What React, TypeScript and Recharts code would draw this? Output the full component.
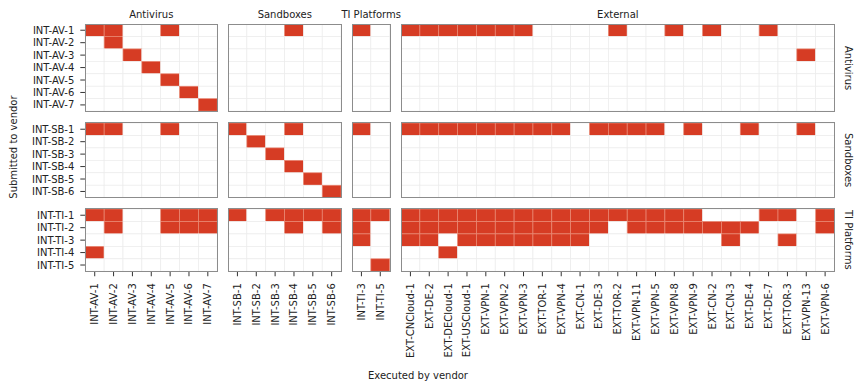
import React from 'react';
import { ScatterChart, Scatter, XAxis, YAxis } from 'recharts';

const avVendors = ['INT-AV-1', 'INT-AV-2', 'INT-AV-3', 'INT-AV-4', 'INT-AV-5', 'INT-AV-6', 'INT-AV-7'];
const sbVendors = ['INT-SB-1', 'INT-SB-2', 'INT-SB-3', 'INT-SB-4', 'INT-SB-5', 'INT-SB-6'];
const tiSubmitters = ['INT-TI-1', 'INT-TI-2', 'INT-TI-3', 'INT-TI-4', 'INT-TI-5'];
const tiExecutors = ['INT-TI-3', 'INT-TI-5'];
const extVendors = [
  'EXT-CNCloud-1', 'EXT-DE-2', 'EXT-DECloud-1', 'EXT-USCloud-1', 'EXT-VPN-1', 'EXT-VPN-2',
  'EXT-VPN-3', 'EXT-TOR-1', 'EXT-VPN-4', 'EXT-CN-1', 'EXT-DE-3', 'EXT-TOR-2', 'EXT-VPN-11',
  'EXT-VPN-5', 'EXT-VPN-8', 'EXT-VPN-9', 'EXT-CN-2', 'EXT-CN-3', 'EXT-DE-4', 'EXT-DE-7',
  'EXT-TOR-3', 'EXT-VPN-13', 'EXT-VPN-6',
];

// who executed a sample submitted to each vendor
const hits: Record<string, string[]> = {
  'INT-AV-1': ['INT-AV-1', 'INT-AV-2', 'INT-AV-5', 'INT-SB-4', 'INT-TI-3', 'EXT-CNCloud-1', 'EXT-DE-2',
    'EXT-DECloud-1', 'EXT-USCloud-1', 'EXT-VPN-1', 'EXT-VPN-2', 'EXT-VPN-3', 'EXT-TOR-2', 'EXT-VPN-8',
    'EXT-CN-2', 'EXT-DE-7'],
  'INT-AV-2': ['INT-AV-2'],
  'INT-AV-3': ['INT-AV-3', 'EXT-VPN-13'],
  'INT-AV-4': ['INT-AV-4'],
  'INT-AV-5': ['INT-AV-5'],
  'INT-AV-6': ['INT-AV-6'],
  'INT-AV-7': ['INT-AV-7'],
  'INT-SB-1': ['INT-AV-1', 'INT-AV-2', 'INT-AV-5', 'INT-SB-1', 'INT-SB-4', 'INT-TI-3', 'EXT-CNCloud-1',
    'EXT-DE-2', 'EXT-DECloud-1', 'EXT-USCloud-1', 'EXT-VPN-1', 'EXT-VPN-2', 'EXT-VPN-3', 'EXT-TOR-1',
    'EXT-VPN-4', 'EXT-DE-3', 'EXT-TOR-2', 'EXT-VPN-11', 'EXT-VPN-5', 'EXT-VPN-9', 'EXT-DE-4', 'EXT-VPN-13'],
  'INT-SB-2': ['INT-SB-2'],
  'INT-SB-3': ['INT-SB-3'],
  'INT-SB-4': ['INT-SB-4'],
  'INT-SB-5': ['INT-SB-5'],
  'INT-SB-6': ['INT-SB-6'],
  'INT-TI-1': ['INT-AV-1', 'INT-AV-2', 'INT-AV-5', 'INT-AV-6', 'INT-AV-7', 'INT-SB-1', 'INT-SB-3',
    'INT-SB-4', 'INT-SB-5', 'INT-SB-6', 'INT-TI-3', 'INT-TI-5', 'EXT-CNCloud-1', 'EXT-DE-2',
    'EXT-DECloud-1', 'EXT-USCloud-1', 'EXT-VPN-1', 'EXT-VPN-2', 'EXT-VPN-3', 'EXT-TOR-1', 'EXT-VPN-4',
    'EXT-CN-1', 'EXT-DE-3', 'EXT-TOR-2', 'EXT-VPN-11', 'EXT-VPN-5', 'EXT-VPN-8', 'EXT-VPN-9',
    'EXT-DE-7', 'EXT-TOR-3', 'EXT-VPN-6'],
  'INT-TI-2': ['INT-AV-2', 'INT-AV-5', 'INT-AV-6', 'INT-AV-7', 'INT-SB-4', 'INT-SB-6', 'INT-TI-3',
    'EXT-CNCloud-1', 'EXT-DE-2', 'EXT-DECloud-1', 'EXT-USCloud-1', 'EXT-VPN-1', 'EXT-VPN-2',
    'EXT-VPN-3', 'EXT-TOR-1', 'EXT-VPN-4', 'EXT-CN-1', 'EXT-DE-3', 'EXT-VPN-11', 'EXT-VPN-5',
    'EXT-VPN-8', 'EXT-VPN-9', 'EXT-CN-2', 'EXT-CN-3', 'EXT-DE-4', 'EXT-VPN-6'],
  'INT-TI-3': ['INT-TI-3', 'EXT-CNCloud-1', 'EXT-DE-2', 'EXT-USCloud-1', 'EXT-VPN-1', 'EXT-VPN-2',
    'EXT-VPN-3', 'EXT-TOR-1', 'EXT-VPN-4', 'EXT-CN-1', 'EXT-CN-3', 'EXT-TOR-3'],
  'INT-TI-4': ['INT-AV-1', 'EXT-DECloud-1'],
  'INT-TI-5': ['INT-TI-5'],
};

const rowGroups = [
  { name: 'Antivirus', rows: avVendors },
  { name: 'Sandboxes', rows: sbVendors },
  { name: 'TI Platforms', rows: tiSubmitters },
];
const colGroups = [
  { name: 'Antivirus', cols: avVendors },
  { name: 'Sandboxes', cols: sbVendors },
  { name: 'TI Platforms', cols: tiExecutors },
  { name: 'External', cols: extVendors },
];

const FONT = '"DejaVu Sans", sans-serif';
const RED = '#d63c24';
const LEFT = 85.3;
const TOP = 24.3;
const CW = 18.85;
const RH = 12.45;
const GAP_X = 11;
const GAP_Y = 11.3;
const X_AXIS_H = 105;

const XTick = (props: any) => {
  const { x, y, payload, labels } = props;
  return (
    <g transform={`translate(${x},${y})`}>
      <text transform="rotate(-90)" textAnchor="end" dy="0.35em" fontSize={10} fontFamily={FONT} fill="#222">
        {labels[payload.value]}
      </text>
    </g>
  );
};

function Panel({ rows, cols, left, top, showX, showY }: any) {
  const w = cols.length * CW;
  const h = rows.length * RH;
  const data = rows.flatMap((r: string, yi: number) =>
    cols.map((c: string, xi: number) => ({ xi, yi, on: (hits[r] || []).includes(c) ? 1 : 0 }))
  );
  const axisW = showY ? left : 0;
  const axisH = showX ? X_AXIS_H : 0;

  const tile = (p: any) => {
    const on = p.payload.on === 1;
    return (
      <rect
        x={p.cx - CW / 2}
        y={p.cy - RH / 2}
        width={CW}
        height={RH}
        fill={on ? RED : '#ffffff'}
        stroke={on ? '#ea8a76' : '#ececec'}
        strokeWidth={0.7}
      />
    );
  };

  return (
    <>
      <div style={{ position: 'absolute', left: left - axisW, top }}>
        <ScatterChart width={w + axisW} height={h + axisH} margin={{ top: 0, right: 0, bottom: 0, left: 0 }}>
          <XAxis
            type="number"
            dataKey="xi"
            domain={[-0.5, cols.length - 0.5]}
            ticks={cols.map((_: string, i: number) => i)}
            interval={0}
            hide={!showX}
            height={axisH}
            axisLine={false}
            tickSize={5}
            tickMargin={7}
            tickLine={{ stroke: '#333' }}
            tick={(p: any) => <XTick {...p} labels={cols} />}
          />
          <YAxis
            type="number"
            dataKey="yi"
            domain={[-0.5, rows.length - 0.5]}
            ticks={rows.map((_: string, i: number) => i)}
            tickFormatter={(i: number) => rows[i]}
            interval={0}
            reversed
            hide={!showY}
            width={axisW}
            axisLine={false}
            tickSize={5}
            tickMargin={6}
            tickLine={{ stroke: '#333' }}
            tick={{ fill: '#222', fontSize: 10, fontFamily: FONT }}
          />
          <Scatter data={data} shape={tile} isAnimationActive={false} />
        </ScatterChart>
      </div>
      <div
        style={{
          position: 'absolute',
          left: left - 0.5,
          top: top - 0.5,
          width: w + 1,
          height: h + 1,
          border: '1px solid #8c8c8c',
          boxSizing: 'border-box',
          pointerEvents: 'none',
        }}
      />
    </>
  );
}

export default function App() {
  const colLefts: number[] = [];
  let x = LEFT;
  colGroups.forEach((g) => {
    colLefts.push(x);
    x += g.cols.length * CW + GAP_X;
  });
  const rowTops: number[] = [];
  let y = TOP;
  rowGroups.forEach((g) => {
    rowTops.push(y);
    y += g.rows.length * RH + GAP_Y;
  });
  const right = colLefts[3] + extVendors.length * CW;
  const bottom = rowTops[2] + tiSubmitters.length * RH;

  return (
    <div style={{ position: 'absolute', left: 0, top: 0, width: 865, height: 387, background: '#fff', fontFamily: FONT, color: '#222' }}>
      {rowGroups.map((rg, ri) =>
        colGroups.map((cg, ci) => (
          <Panel
            key={`${ri}-${ci}`}
            rows={rg.rows}
            cols={cg.cols}
            left={colLefts[ci]}
            top={rowTops[ri]}
            showX={ri === rowGroups.length - 1}
            showY={ci === 0}
          />
        ))
      )}

      {colGroups.map((cg, ci) => (
        <div
          key={cg.name}
          style={{
            position: 'absolute',
            left: colLefts[ci] - 20,
            width: cg.cols.length * CW + 40,
            top: 9,
            lineHeight: '12px',
            fontSize: 10,
            textAlign: 'center',
            whiteSpace: 'nowrap',
          }}
        >
          {cg.name}
        </div>
      ))}

      {rowGroups.map((rg, ri) => (
        <div
          key={rg.name}
          style={{
            position: 'absolute',
            left: right + 7.5,
            top: rowTops[ri] - 10,
            height: rg.rows.length * RH + 20,
            width: 12,
            lineHeight: '12px',
            fontSize: 10,
            writingMode: 'vertical-rl',
            textAlign: 'center',
            whiteSpace: 'nowrap',
          }}
        >
          {rg.name}
        </div>
      ))}

      <div
        style={{
          position: 'absolute',
          left: 8,
          top: TOP,
          height: bottom - TOP,
          width: 12,
          lineHeight: '12px',
          fontSize: 10,
          writingMode: 'vertical-rl',
          transform: 'rotate(180deg)',
          textAlign: 'center',
          whiteSpace: 'nowrap',
        }}
      >
        Submitted to vendor
      </div>

      <div style={{ position: 'absolute', left: 0, width: 836, top: 370, lineHeight: '12px', fontSize: 10, textAlign: 'center' }}>
        Executed by vendor
      </div>
    </div>
  );
}
